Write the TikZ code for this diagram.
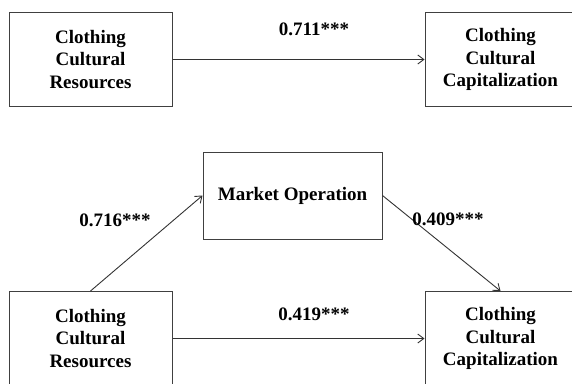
\documentclass[tikz,border=0pt]{standalone}
\usepackage{fontspec}
\setmainfont{Liberation Serif}
\usepackage{tikz}
\usetikzlibrary{arrows.meta, positioning}
\tikzstyle{construct} = [rectangle, minimum height=94pt, text centered, align=center, draw=black!75, line width=1pt, font=\fontsize{19}{22.5}\selectfont\bfseries]
\tikzstyle{wideconstruct} = [construct, minimum width=163pt]
\tikzstyle{narrowconstruct} = [construct, minimum width=151pt]
\tikzstyle{mediator} = [construct, minimum width=179pt, minimum height=87pt]
\tikzstyle{coef} = [rectangle, inner sep=0pt, text height=13pt, text depth=4pt, font=\fontsize{19}{22.5}\selectfont\bfseries]
\tikzstyle{link} = [draw=black!80, line width=0.9pt, -{Straight Barb[length=6pt, width=9pt]}]

\begin{document}
\begin{tikzpicture}[node distance=279pt]
\useasboundingbox (0,0) rectangle (572pt,-383pt);
% total effect
\node (res1) [wideconstruct] at (90.5pt,-59.5pt) {Clothing\\Cultural\\Resources};
\node (cap1) [narrowconstruct, right of=res1, node distance=410pt] {Clothing\\Cultural\\Capitalization};
% mediation model
\node (res2) [wideconstruct, below of=res1] {Clothing\\Cultural\\Resources};
\node (cap2) [narrowconstruct, below of=cap1] {Clothing\\Cultural\\Capitalization};
\node (market) [mediator, right of=res1, node distance=202pt, yshift=-136pt] {Market Operation};
\draw [link] (res1) -- (cap1);
\draw [link] (res2.north) -- (market.west);
\draw [link] (market.east) -- (cap2.north);
\draw [link] (res2) -- (cap2);
\node (w711) [coef, right of=res1, node distance=223.5pt, yshift=28.5pt] {0.711***};
\node (w716) [coef, right of=res2, node distance=24.5pt, yshift=116.5pt] {0.716***};
\node (w409) [coef, left of=cap2, node distance=52.5pt, yshift=117.5pt] {0.409***};
\node (w419) [coef, right of=res2, node distance=223.5pt, yshift=22.5pt] {0.419***};
\end{tikzpicture}
\end{document}
